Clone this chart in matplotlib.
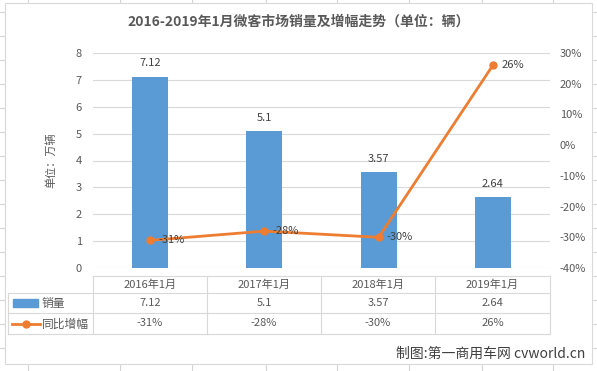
import matplotlib.pyplot as plt
from matplotlib.lines import Line2D
from matplotlib.patches import Rectangle
from matplotlib.ticker import FuncFormatter

plt.rcParams['font.family'] = ['Noto Sans CJK SC', 'DejaVu Sans']

# 数据
categories = ["2016年1月", "2017年1月", "2018年1月", "2019年1月"]
sales = [7.12, 5.1, 3.57, 2.64]          # 万辆
growth = [-0.31, -0.28, -0.30, 0.26]     # 同比增幅
sales_labels = ["7.12", "5.1", "3.57", "2.64"]
growth_labels = ["-31%", "-28%", "-30%", "26%"]

BLUE = "#5B9BD5"
ORANGE = "#ED7D31"
TXT = "#595959"
GRID = "#D9D9D9"
FS = 8

W, H = 597, 371
fig = plt.figure(figsize=(W / 100, H / 100), dpi=100)


def fx(x):
    return x / W


def fy(y):
    return 1 - y / H


def hline(x0, x1, y, color=GRID, lw=0.8, z=1):
    fig.add_artist(Line2D([fx(x0), fx(x1)], [fy(y), fy(y)], color=color, lw=lw, zorder=z))


def vline(x, y0, y1, color=GRID, lw=0.8, z=1):
    fig.add_artist(Line2D([fx(x), fx(x)], [fy(y0), fy(y1)], color=color, lw=lw, zorder=z))


# 背景的表格线 (excel 单元格)
for y in range(12, H, 24):
    hline(0, W, y, color="#D4D4D4", lw=0.8, z=0)
for x in [28, 120, 192, 266, 337, 409, 482, 553]:
    vline(x, 0, H, color="#D4D4D4", lw=0.8, z=0)

# 图表区
fig.add_artist(Rectangle((fx(5), fy(364)), fx(592) - fx(5), fy(3) - fy(364),
                         facecolor="white", edgecolor=GRID, lw=0.8, zorder=0.5))

# 主图
ax = fig.add_axes([fx(93), fy(268), fx(550) - fx(93), fy(53) - fy(268)])
ax.set_zorder(2)
ax.set_facecolor("none")
xs = list(range(len(categories)))
bars = ax.bar(xs, sales, width=0.316, color=BLUE, zorder=2)
ax.set_xlim(-0.5, 3.5)
ax.set_ylim(0, 8)
ax.set_yticks(range(0, 9))
ax.set_xticks([])
ax.yaxis.grid(True, color=GRID, lw=0.8)
ax.set_axisbelow(True)
for s in ax.spines.values():
    s.set_visible(False)
ax.tick_params(axis="y", length=0, pad=8, labelsize=FS, labelcolor=TXT)
ax.set_ylabel("单位：万辆", fontsize=FS, color=TXT, labelpad=14)

for x, v, lab in zip(xs, sales, sales_labels):
    ax.annotate(lab, (x, v), xytext=(0, 6), textcoords="offset points",
                ha="center", va="bottom", fontsize=FS, color="#404040")

ax2 = ax.twinx()
ax2.set_zorder(3)
ax2.set_facecolor("none")
ax2.plot(xs, growth, color=ORANGE, lw=2, marker="o", ms=5, zorder=3)
ax2.set_ylim(-0.4, 0.3)
ax2.set_yticks([i / 10 for i in range(-4, 4)])
ax2.yaxis.set_major_formatter(FuncFormatter(lambda v, p: f"{v * 100:.0f}%"))
for s in ax2.spines.values():
    s.set_visible(False)
ax2.tick_params(axis="y", length=0, pad=7, labelsize=FS, labelcolor=TXT)
for x, v, lab in zip(xs, growth, growth_labels):
    ax2.annotate(lab, (x, v), xytext=(6, 0), textcoords="offset points",
                 ha="left", va="center", fontsize=FS, color="#404040")

# 数据表
cols = [93, 207, 321, 435, 550]
rows = [276, 293, 313, 334]
hline(93, 550, rows[0])
for y in rows[1:]:
    hline(8, 550, y)
for x in cols:
    vline(x, rows[0], rows[3])
vline(8, rows[1], rows[3])

for i, c in enumerate(categories):
    cx = (cols[i] + cols[i + 1]) / 2
    fig.text(fx(cx), fy((rows[0] + rows[1]) / 2), c, ha="center", va="center", fontsize=FS, color=TXT)
    fig.text(fx(cx), fy((rows[1] + rows[2]) / 2), sales_labels[i], ha="center", va="center", fontsize=FS, color=TXT)
    fig.text(fx(cx), fy((rows[2] + rows[3]) / 2), growth_labels[i], ha="center", va="center", fontsize=FS, color=TXT)

# 图例
fig.add_artist(Rectangle((fx(13), fy(307)), fx(38) - fx(13), fy(299) - fy(307), color=BLUE))
fig.text(fx(42), fy(303), "销量", ha="left", va="center", fontsize=8.5, color=TXT)
fig.add_artist(Line2D([fx(12), fx(40)], [fy(324), fy(324)], color=ORANGE, lw=2))
fig.add_artist(Line2D([fx(26)], [fy(324)], color=ORANGE, marker="o", ms=5))
fig.text(fx(42), fy(324), "同比增幅", ha="left", va="center", fontsize=8.5, color=TXT)

fig.text(0.5, fy(22), "2016-2019年1月微客市场销量及增幅走势（单位：辆）",
         ha="center", va="center", fontsize=10, fontweight="bold", color=TXT)
fig.text(fx(585), fy(354), "制图:第一商用车网 cvworld.cn", ha="right", va="center",
         fontsize=10, color="#404040")

fig.savefig("out.png", dpi=100)
